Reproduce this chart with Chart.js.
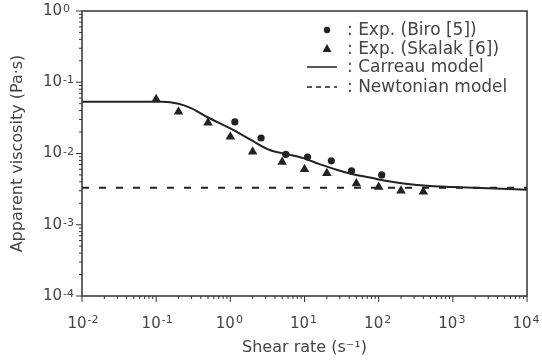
<!DOCTYPE html>
<html>
<head>
<meta charset="utf-8">
<script src="https://cdn.jsdelivr.net/npm/chart.js@4.4.1/dist/chart.umd.min.js"></script>
<style>
    html, body { margin: 0; padding: 0; background: #fff; }
</style>
</head>
<body>
<canvas id="viscosidade" width="542" height="360"></canvas>
<script>
// dados experimentais - Biro [5]
const biroRate = [1.15, 2.6, 5.6, 11, 23, 43, 110]
const biroVisc = [0.0277, 0.0165, 0.0097, 0.0089, 0.0079, 0.0057, 0.0050]

// dados experimentais - Skalak [6]
const skalakRate = [0.1, 0.2, 0.5, 1, 2, 5, 10, 20, 50, 100, 200, 400]
const skalakVisc = [0.0577, 0.0386, 0.0271, 0.0172, 0.0106, 0.0076, 0.0060, 0.0053, 0.0038, 0.0034, 0.0030, 0.0029]

// curva do modelo de Carreau
const carreauRate = [0.01, 0.12, 0.2, 0.3, 0.5, 1, 2, 3.4, 5.8, 9.6, 16, 27, 45, 76, 130, 215, 500, 1000, 10000]
const carreauVisc = [0.0533, 0.0533, 0.050, 0.043, 0.032, 0.0225, 0.0150, 0.0112, 0.0098, 0.0086, 0.0071, 0.0059, 0.0051, 0.0046, 0.0041, 0.0038, 0.0035, 0.0034, 0.0031]

// modelo newtoniano (viscosidade constante)
const newtonRate = [0.01, 10000]
const newtonVisc = [0.0033, 0.0033]

// expoentes das décadas
const xDecadas = [-2, -1, 0, 1, 2, 3, 4]
const yDecadas = [-4, -3, -2, -1, 0]

const legendaTextos = [': Exp. (Biro [5])', ': Exp. (Skalak [6])', ': Carreau model', ': Newtonian model']

const FONTE = "'DejaVu Sans', sans-serif"
const COR = '#222'
const COR_TEXTO = '#444'
const PAD_X = 19
const DESLOC_X = -5

function pares(xs, ys){
    return xs.map((x, i) => ({x: x, y: ys[i]}))
}

// moldura, marcas menores dos eixos log e expoentes dos rótulos
const molduraPlugin = {
    id: 'moldura',
    afterDraw(chart){
        const ctx = chart.ctx
        const a = chart.chartArea
        const sx = chart.scales.x
        const sy = chart.scales.y
        ctx.save()
        ctx.strokeStyle = '#333'
        ctx.lineWidth = 1.5
        ctx.strokeRect(a.left, a.top, a.right - a.left, a.bottom - a.top)

        ctx.lineWidth = 1
        ctx.beginPath()
        xDecadas.forEach(d => {
            for(let m = 1; m <= 9; m++){
                const v = m * Math.pow(10, d)
                if(v > 10000) break
                const px = sx.getPixelForValue(v)
                const len = m == 1 ? 6 : 3
                ctx.moveTo(px, a.bottom)
                ctx.lineTo(px, a.bottom + len)
            }
        })
        yDecadas.forEach(d => {
            for(let m = 1; m <= 9; m++){
                const v = m * Math.pow(10, d)
                if(v > 1) break
                const py = sy.getPixelForValue(v)
                const len = m == 1 ? 6 : 3
                ctx.moveTo(a.left, py)
                ctx.lineTo(a.left - len, py)
            }
        })
        ctx.stroke()

        // expoentes
        ctx.fillStyle = COR_TEXTO
        ctx.font = '15px ' + FONTE
        const w10 = ctx.measureText('10').width
        ctx.font = '11px ' + FONTE
        ctx.textAlign = 'left'
        ctx.textBaseline = 'alphabetic'
        const yCentro = a.bottom + PAD_X + 7
        xDecadas.forEach(d => {
            const px = sx.getPixelForValue(Math.pow(10, d)) + DESLOC_X
            ctx.fillText(String(d), px + w10 / 2 + 1, yCentro + 1)
        })
        yDecadas.forEach(d => {
            const py = sy.getPixelForValue(Math.pow(10, d))
            ctx.fillText(String(d), 63, py + 1)
        })
        ctx.restore()
    }
}

// legenda dentro da área do gráfico
const legendaPlugin = {
    id: 'legenda',
    afterDraw(chart){
        const ctx = chart.ctx
        const xm = 327
        const xt = 347
        const ys = [30, 48.5, 67, 87]
        ctx.save()
        ctx.fillStyle = COR
        ctx.strokeStyle = COR

        ctx.beginPath()
        ctx.arc(xm, ys[0], 3.2, 0, Math.PI * 2)
        ctx.fill()

        ctx.beginPath()
        ctx.moveTo(xm, ys[1] - 4.5)
        ctx.lineTo(xm + 4.5, ys[1] + 3.5)
        ctx.lineTo(xm - 4.5, ys[1] + 3.5)
        ctx.closePath()
        ctx.fill()

        ctx.lineWidth = 1.5
        ctx.beginPath()
        ctx.moveTo(307, ys[2])
        ctx.lineTo(337, ys[2])
        ctx.stroke()

        ctx.setLineDash([5, 4])
        ctx.beginPath()
        ctx.moveTo(307, ys[3])
        ctx.lineTo(337, ys[3])
        ctx.stroke()
        ctx.setLineDash([])

        ctx.fillStyle = COR_TEXTO
        ctx.font = '17px ' + FONTE
        ctx.textBaseline = 'middle'
        legendaTextos.forEach((t, i) => ctx.fillText(t, xt, ys[i] + 1))
        ctx.restore()
    }
}

const ctx = document.getElementById('viscosidade').getContext('2d')
const grafico = new Chart(ctx, {
    type: 'scatter',
    data: {
        datasets: [
            {
                label: 'Exp. (Biro [5])',
                data: pares(biroRate, biroVisc),
                pointStyle: 'circle',
                pointRadius: 3.6,
                backgroundColor: COR,
                borderColor: COR,
                borderWidth: 0
            },
            {
                label: 'Exp. (Skalak [6])',
                data: pares(skalakRate, skalakVisc),
                pointStyle: 'triangle',
                pointRadius: 5.5,
                backgroundColor: COR,
                borderColor: COR,
                borderWidth: 0
            },
            {
                label: 'Carreau model',
                data: pares(carreauRate, carreauVisc),
                showLine: true,
                pointRadius: 0,
                borderColor: COR,
                borderWidth: 2,
                cubicInterpolationMode: 'monotone'
            },
            {
                label: 'Newtonian model',
                data: pares(newtonRate, newtonVisc),
                showLine: true,
                pointRadius: 0,
                borderColor: COR,
                borderWidth: 2,
                borderDash: [7, 10]
            }
        ]
    },
    options: {
        responsive: false,
        animation: false,
        devicePixelRatio: 1,
        layout: {
            padding: {top: 11, right: 15, left: 0, bottom: 0}
        },
        plugins: {
            legend: {display: false},
            tooltip: {enabled: false}
        },
        scales: {
            x: {
                type: 'logarithmic',
                min: 0.01,
                max: 10000,
                grid: {display: false, drawTicks: false},
                border: {display: false},
                afterBuildTicks: s => { s.ticks = xDecadas.map(d => ({value: Math.pow(10, d)})) },
                afterFit: s => { s.height = 64; s.paddingLeft = 0; s.paddingRight = 0 },
                ticks: {
                    autoSkip: false,
                    maxRotation: 0,
                    padding: PAD_X,
                    labelOffset: DESLOC_X,
                    color: COR_TEXTO,
                    font: {family: FONTE, size: 15},
                    callback: v => '10'
                },
                title: {
                    display: true,
                    text: 'Shear rate (s\u207B\u00B9)',
                    color: COR_TEXTO,
                    font: {family: FONTE, size: 16},
                    padding: {top: 0, bottom: 3}
                }
            },
            y: {
                type: 'logarithmic',
                min: 0.0001,
                max: 1,
                grid: {display: false, drawTicks: false},
                border: {display: false},
                afterBuildTicks: s => { s.ticks = yDecadas.map(d => ({value: Math.pow(10, d)})) },
                afterFit: s => { s.width = 82; s.paddingTop = 0; s.paddingBottom = 0 },
                ticks: {
                    autoSkip: false,
                    padding: 20,
                    color: COR_TEXTO,
                    font: {family: FONTE, size: 15},
                    callback: v => '10'
                },
                title: {
                    display: true,
                    text: 'Apparent viscosity (Pa\u00B7s)',
                    color: COR_TEXTO,
                    font: {family: FONTE, size: 16},
                    padding: {top: 8, bottom: 0}
                }
            }
        }
    },
    plugins: [molduraPlugin, legendaPlugin]
})
</script>
</body>
</html>
